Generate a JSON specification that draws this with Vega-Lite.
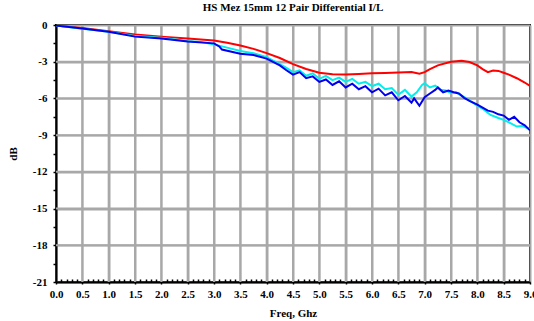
{
  "$schema": "https://vega.github.io/schema/vega-lite/v6.json",
  "width": 474,
  "height": 257,
  "autosize": {"type": "none"},
  "padding": {"left": 56, "top": 25, "right": 4, "bottom": 39},
  "background": "white",
  "title": {
    "text": "HS Mez 15mm 12 Pair Differential I/L",
    "font": "Liberation Serif",
    "fontSize": 11,
    "fontWeight": "bold",
    "color": "black",
    "anchor": "middle",
    "offset": 6
  },
  "config": {
    "view": {"stroke": "black", "strokeWidth": 2},
    "axis": {
      "labelFont": "Liberation Serif",
      "labelFontSize": 11,
      "labelFontWeight": "bold",
      "labelColor": "black",
      "titleFont": "Liberation Serif",
      "titleFontSize": 11,
      "titleFontWeight": "bold",
      "titleColor": "black",
      "domainColor": "black",
      "domainWidth": 2,
      "ticks": true,
      "tickColor": "black",
      "tickOpacity": 1,
      "grid": false
    }
  },
  "datasets": {
    "gridx": [
      {"gx": 0.5}, {"gx": 1.0}, {"gx": 1.5}, {"gx": 2.0}, {"gx": 2.5}, {"gx": 3.0}, {"gx": 3.5}, {"gx": 4.0},
      {"gx": 4.5}, {"gx": 5.0}, {"gx": 5.5}, {"gx": 6.0}, {"gx": 6.5}, {"gx": 7.0}, {"gx": 7.5}, {"gx": 8.0}, {"gx": 8.5}
    ],
    "gridy": [
      {"gy": -18}, {"gy": -15}, {"gy": -12}, {"gy": -9}, {"gy": -6}, {"gy": -3}
    ],
    "curves": [
      {"series": "red", "freq": 0.0, "dB": -0.05},
      {"series": "red", "freq": 0.5, "dB": -0.25},
      {"series": "red", "freq": 1.0, "dB": -0.5},
      {"series": "red", "freq": 1.5, "dB": -0.78},
      {"series": "red", "freq": 2.0, "dB": -0.95},
      {"series": "red", "freq": 2.5, "dB": -1.1},
      {"series": "red", "freq": 3.0, "dB": -1.27},
      {"series": "red", "freq": 3.25, "dB": -1.45},
      {"series": "red", "freq": 3.5, "dB": -1.68},
      {"series": "red", "freq": 3.75, "dB": -1.95},
      {"series": "red", "freq": 4.0, "dB": -2.3},
      {"series": "red", "freq": 4.25, "dB": -2.7},
      {"series": "red", "freq": 4.5, "dB": -3.2},
      {"series": "red", "freq": 4.75, "dB": -3.6},
      {"series": "red", "freq": 5.0, "dB": -3.9},
      {"series": "red", "freq": 5.25, "dB": -4.02},
      {"series": "red", "freq": 5.5, "dB": -4.05},
      {"series": "red", "freq": 5.75, "dB": -4.0},
      {"series": "red", "freq": 6.0, "dB": -3.95},
      {"series": "red", "freq": 6.25, "dB": -3.92},
      {"series": "red", "freq": 6.5, "dB": -3.88},
      {"series": "red", "freq": 6.75, "dB": -3.85},
      {"series": "red", "freq": 6.9, "dB": -3.98},
      {"series": "red", "freq": 7.0, "dB": -3.85},
      {"series": "red", "freq": 7.1, "dB": -3.6},
      {"series": "red", "freq": 7.25, "dB": -3.3},
      {"series": "red", "freq": 7.5, "dB": -3.0},
      {"series": "red", "freq": 7.7, "dB": -2.92},
      {"series": "red", "freq": 7.85, "dB": -3.02},
      {"series": "red", "freq": 8.0, "dB": -3.3},
      {"series": "red", "freq": 8.1, "dB": -3.6},
      {"series": "red", "freq": 8.2, "dB": -3.85},
      {"series": "red", "freq": 8.3, "dB": -3.72},
      {"series": "red", "freq": 8.4, "dB": -3.75},
      {"series": "red", "freq": 8.5, "dB": -3.9},
      {"series": "red", "freq": 8.6, "dB": -4.05},
      {"series": "red", "freq": 8.75, "dB": -4.35},
      {"series": "red", "freq": 8.9, "dB": -4.7},
      {"series": "red", "freq": 9.0, "dB": -4.98},

      {"series": "cyan", "freq": 0.0, "dB": -0.05},
      {"series": "cyan", "freq": 0.5, "dB": -0.3},
      {"series": "cyan", "freq": 1.0, "dB": -0.55},
      {"series": "cyan", "freq": 1.5, "dB": -0.9},
      {"series": "cyan", "freq": 2.0, "dB": -1.05},
      {"series": "cyan", "freq": 2.5, "dB": -1.3},
      {"series": "cyan", "freq": 2.75, "dB": -1.38},
      {"series": "cyan", "freq": 3.0, "dB": -1.6},
      {"series": "cyan", "freq": 3.25, "dB": -1.85},
      {"series": "cyan", "freq": 3.5, "dB": -2.12},
      {"series": "cyan", "freq": 3.75, "dB": -2.3},
      {"series": "cyan", "freq": 4.0, "dB": -2.62},
      {"series": "cyan", "freq": 4.25, "dB": -3.2},
      {"series": "cyan", "freq": 4.375, "dB": -3.5},
      {"series": "cyan", "freq": 4.5, "dB": -3.85},
      {"series": "cyan", "freq": 4.625, "dB": -3.7},
      {"series": "cyan", "freq": 4.75, "dB": -4.15},
      {"series": "cyan", "freq": 4.875, "dB": -3.95},
      {"series": "cyan", "freq": 5.0, "dB": -4.4},
      {"series": "cyan", "freq": 5.125, "dB": -4.15},
      {"series": "cyan", "freq": 5.25, "dB": -4.5},
      {"series": "cyan", "freq": 5.375, "dB": -4.3},
      {"series": "cyan", "freq": 5.5, "dB": -4.65},
      {"series": "cyan", "freq": 5.625, "dB": -4.4},
      {"series": "cyan", "freq": 5.75, "dB": -4.8},
      {"series": "cyan", "freq": 5.875, "dB": -4.65},
      {"series": "cyan", "freq": 6.0, "dB": -5.0},
      {"series": "cyan", "freq": 6.125, "dB": -4.8},
      {"series": "cyan", "freq": 6.25, "dB": -5.25},
      {"series": "cyan", "freq": 6.375, "dB": -5.15},
      {"series": "cyan", "freq": 6.5, "dB": -5.7},
      {"series": "cyan", "freq": 6.625, "dB": -5.3},
      {"series": "cyan", "freq": 6.75, "dB": -5.85},
      {"series": "cyan", "freq": 6.85, "dB": -5.5},
      {"series": "cyan", "freq": 6.95, "dB": -4.9},
      {"series": "cyan", "freq": 7.0, "dB": -4.75},
      {"series": "cyan", "freq": 7.1, "dB": -5.1},
      {"series": "cyan", "freq": 7.2, "dB": -4.95},
      {"series": "cyan", "freq": 7.3, "dB": -5.3},
      {"series": "cyan", "freq": 7.4, "dB": -5.35},
      {"series": "cyan", "freq": 7.5, "dB": -5.55},
      {"series": "cyan", "freq": 7.6, "dB": -5.5},
      {"series": "cyan", "freq": 7.75, "dB": -5.9},
      {"series": "cyan", "freq": 7.9, "dB": -6.3},
      {"series": "cyan", "freq": 8.0, "dB": -6.6},
      {"series": "cyan", "freq": 8.1, "dB": -6.85},
      {"series": "cyan", "freq": 8.25, "dB": -7.35},
      {"series": "cyan", "freq": 8.4, "dB": -7.6},
      {"series": "cyan", "freq": 8.5, "dB": -7.75},
      {"series": "cyan", "freq": 8.6, "dB": -7.95},
      {"series": "cyan", "freq": 8.75, "dB": -8.3},
      {"series": "cyan", "freq": 8.85, "dB": -8.25},
      {"series": "cyan", "freq": 9.0, "dB": -8.5},

      {"series": "blue", "freq": 0.0, "dB": -0.05},
      {"series": "blue", "freq": 0.5, "dB": -0.28},
      {"series": "blue", "freq": 1.0, "dB": -0.55},
      {"series": "blue", "freq": 1.5, "dB": -0.95},
      {"series": "blue", "freq": 2.0, "dB": -1.1},
      {"series": "blue", "freq": 2.5, "dB": -1.35},
      {"series": "blue", "freq": 3.0, "dB": -1.5},
      {"series": "blue", "freq": 3.1, "dB": -1.75},
      {"series": "blue", "freq": 3.15, "dB": -2.0},
      {"series": "blue", "freq": 3.5, "dB": -2.35},
      {"series": "blue", "freq": 3.75, "dB": -2.45},
      {"series": "blue", "freq": 4.0, "dB": -2.75},
      {"series": "blue", "freq": 4.25, "dB": -3.3},
      {"series": "blue", "freq": 4.375, "dB": -3.7},
      {"series": "blue", "freq": 4.5, "dB": -4.05},
      {"series": "blue", "freq": 4.625, "dB": -3.85},
      {"series": "blue", "freq": 4.75, "dB": -4.35},
      {"series": "blue", "freq": 4.875, "dB": -4.2},
      {"series": "blue", "freq": 5.0, "dB": -4.65},
      {"series": "blue", "freq": 5.125, "dB": -4.45},
      {"series": "blue", "freq": 5.25, "dB": -4.9},
      {"series": "blue", "freq": 5.375, "dB": -4.6},
      {"series": "blue", "freq": 5.5, "dB": -5.1},
      {"series": "blue", "freq": 5.625, "dB": -4.8},
      {"series": "blue", "freq": 5.75, "dB": -5.25},
      {"series": "blue", "freq": 5.875, "dB": -5.0},
      {"series": "blue", "freq": 6.0, "dB": -5.5},
      {"series": "blue", "freq": 6.125, "dB": -5.2},
      {"series": "blue", "freq": 6.25, "dB": -5.75},
      {"series": "blue", "freq": 6.375, "dB": -5.5},
      {"series": "blue", "freq": 6.5, "dB": -6.15},
      {"series": "blue", "freq": 6.625, "dB": -5.8},
      {"series": "blue", "freq": 6.75, "dB": -6.35},
      {"series": "blue", "freq": 6.8, "dB": -6.0},
      {"series": "blue", "freq": 6.9, "dB": -6.6},
      {"series": "blue", "freq": 7.0, "dB": -5.9},
      {"series": "blue", "freq": 7.1, "dB": -5.6},
      {"series": "blue", "freq": 7.2, "dB": -5.3},
      {"series": "blue", "freq": 7.25, "dB": -5.1},
      {"series": "blue", "freq": 7.35, "dB": -5.5},
      {"series": "blue", "freq": 7.45, "dB": -5.35},
      {"series": "blue", "freq": 7.55, "dB": -5.5},
      {"series": "blue", "freq": 7.65, "dB": -5.6},
      {"series": "blue", "freq": 7.75, "dB": -5.95},
      {"series": "blue", "freq": 7.85, "dB": -6.2},
      {"series": "blue", "freq": 8.0, "dB": -6.5},
      {"series": "blue", "freq": 8.1, "dB": -6.75},
      {"series": "blue", "freq": 8.2, "dB": -7.0},
      {"series": "blue", "freq": 8.3, "dB": -7.1},
      {"series": "blue", "freq": 8.4, "dB": -7.3},
      {"series": "blue", "freq": 8.5, "dB": -7.4},
      {"series": "blue", "freq": 8.6, "dB": -7.75},
      {"series": "blue", "freq": 8.7, "dB": -7.5},
      {"series": "blue", "freq": 8.8, "dB": -7.95},
      {"series": "blue", "freq": 8.9, "dB": -8.2},
      {"series": "blue", "freq": 9.0, "dB": -8.6}
    ]
  },
  "resolve": {"axis": {"x": "independent", "y": "independent"}},
  "layer": [
    {
      "data": {"name": "gridx"},
      "mark": {"type": "rule", "color": "#a8a8a8", "strokeWidth": 2},
      "encoding": {
        "x": {"field": "gx", "type": "quantitative", "scale": {"domain": [0, 9], "nice": false}, "axis": null},
        "y": {"datum": -21, "type": "quantitative", "scale": {"domain": [-21, 0], "nice": false}, "axis": null},
        "y2": {"datum": 0}
      }
    },
    {
      "data": {"name": "gridy"},
      "mark": {"type": "rule", "color": "#a8a8a8", "strokeWidth": 2},
      "encoding": {
        "y": {"field": "gy", "type": "quantitative", "scale": {"domain": [-21, 0], "nice": false}, "axis": null},
        "x": {"datum": 0, "type": "quantitative", "scale": {"domain": [0, 9], "nice": false}, "axis": null},
        "x2": {"datum": 9}
      }
    },
    {
      "data": {"name": "curves"},
      "mark": {"type": "line", "strokeOpacity": 0},
      "encoding": {
        "x": {
          "field": "freq",
          "type": "quantitative",
          "scale": {"domain": [0, 9], "nice": false},
          "axis": {
            "orient": "bottom",
            "title": null,
            "values": [0.1,0.2,0.3,0.4,0.6,0.7,0.8,0.9,1.1,1.2,1.3,1.4,1.6,1.7,1.8,1.9,2.1,2.2,2.3,2.4,2.6,2.7,2.8,2.9,3.1,3.2,3.3,3.4,3.6,3.7,3.8,3.9,4.1,4.2,4.3,4.4,4.6,4.7,4.8,4.9,5.1,5.2,5.3,5.4,5.6,5.7,5.8,5.9,6.1,6.2,6.3,6.4,6.6,6.7,6.8,6.9,7.1,7.2,7.3,7.4,7.6,7.7,7.8,7.9,8.1,8.2,8.3,8.4,8.6,8.7,8.8,8.9],
            "labels": false,
            "grid": false,
            "domain": false,
            "ticks": true,
            "tickSize": -3,
            "tickWidth": 1.5
          }
        },
        "y": {
          "field": "dB",
          "type": "quantitative",
          "scale": {"domain": [-21, 0], "nice": false},
          "axis": {
            "orient": "left",
            "title": null,
            "values": [-19.5,-16.5,-13.5,-10.5,-7.5,-4.5,-1.5],
            "labels": false,
            "grid": false,
            "domain": false,
            "ticks": true,
            "tickSize": 3,
            "tickWidth": 1.5
          }
        },
        "detail": {"field": "series"}
      }
    },
    {
      "data": {"name": "curves"},
      "mark": {"type": "line", "strokeWidth": 2, "clip": true},
      "encoding": {
        "x": {
          "field": "freq",
          "type": "quantitative",
          "scale": {"domain": [0, 9], "nice": false},
          "axis": {
            "orient": "bottom",
            "title": "Freq, Ghz",
            "titlePadding": 8,
            "values": [0,0.5,1,1.5,2,2.5,3,3.5,4,4.5,5,5.5,6,6.5,7,7.5,8,8.5,9],
            "format": ".1f",
            "grid": true,
            "gridColor": "#a8a8a8",
            "gridWidth": 2,
            "gridOpacity": 1,
            "ticks": true,
            "labelPadding": 4,
            "labelDx": -4,
            "labelFlush": false,
            "labelOverlap": false,
            "tickSize": 2,
            "tickWidth": 1.5
          }
        },
        "y": {
          "field": "dB",
          "type": "quantitative",
          "scale": {"domain": [-21, 0], "nice": false},
          "axis": {
            "orient": "left",
            "title": "dB",
            "titlePadding": 14,
            "values": [-21,-18,-15,-12,-9,-6,-3,0],
            "labelExpr": "replace(format(datum.value, 'd'), '\u2212', '-')",
            "grid": true,
            "gridColor": "#a8a8a8",
            "gridWidth": 2,
            "gridOpacity": 1,
            "ticks": true,
            "labelPadding": 6,
            "labelFlush": false,
            "labelOverlap": false,
            "tickSize": 3,
            "tickWidth": 1.5
          }
        },
        "color": {
          "field": "series",
          "type": "nominal",
          "scale": {"domain": ["red", "cyan", "blue"], "range": ["#ff0000", "#00eeee", "#0000ee"]},
          "legend": null
        }
      }
    }
  ]
}
